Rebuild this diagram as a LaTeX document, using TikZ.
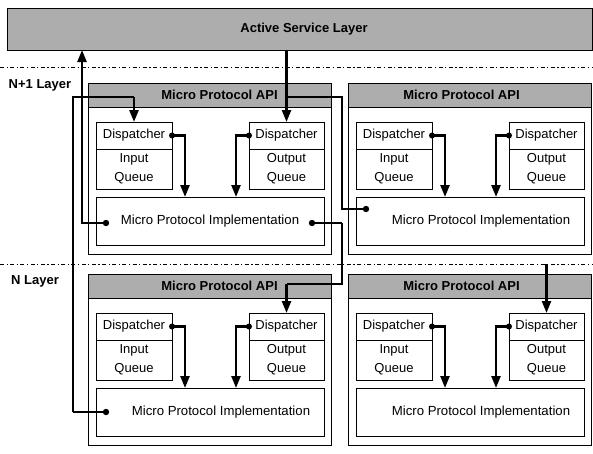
\documentclass[tikz,border=0pt]{standalone}
\usepackage{fontspec}
\setmainfont{Liberation Sans}
\usetikzlibrary{arrows.meta,calc}
\tikzset{
  boxline/.style={draw=black, line width=0.9pt, inner sep=0pt, outer sep=0pt},
  modbox/.style={boxline, anchor=north west},
  bandbox/.style={boxline, anchor=north west, fill=black!32, font=\fontsize{13}{15}\selectfont\bfseries},
  inbox/.style={boxline, anchor=north west, fill=white, align=center, font=\fontsize{13}{19}\selectfont},
  impltext/.style={font=\fontsize{13.2}{15}\selectfont, inner sep=0pt},
  conn/.style={line width=2.4pt, line join=miter},
  route/.style={line width=1.2pt},
  tipped/.style={-{Triangle[length=12pt,width=9pt]}},
  dotm/.style={fill=black},
  sep/.style={line width=0.9pt, dash pattern=on 4pt off 2.5pt on 1.2pt off 2.5pt},
  layerlabel/.style={font=\fontsize{13}{15}\selectfont\bfseries, inner sep=0pt}
}
\newcommand\mymodule[4]{%
  \node[modbox, minimum width=243pt, minimum height=171pt] (#1mod) at (#2,#3) {};
  \node[bandbox, minimum width=243pt, minimum height=24pt] (#1api) at (#2,#3) {\hspace*{#4}Micro Protocol API};
  \node[inbox, minimum width=76pt, minimum height=27pt] (#1ind) at (#2+8,#3+39) {Dispatcher};
  \node[inbox, minimum width=76pt, minimum height=40pt] (#1inq) at (#2+8,#3+66) {Input\\Queue};
  \node[inbox, minimum width=75pt, minimum height=27pt] (#1outd) at (#2+161,#3+39) {Dispatcher};
  \node[inbox, minimum width=75pt, minimum height=40pt] (#1outq) at (#2+161,#3+66) {Output\\Queue};
  \node[inbox, minimum width=228pt, minimum height=48pt] (#1impl) at (#2+8,#3+114) {};
  \coordinate (#1a) at (#2+97,#3+114);
  \coordinate (#1b) at (#2+148,#3+114);
  \draw[conn, tipped] (#1ind.east) -| (#1a);
  \draw[conn, tipped] (#1outd.west) -| (#1b);
  \fill[dotm] (#1ind.east) circle (3pt);
  \fill[dotm] (#1outd.west) circle (3pt);
}
\begin{document}
\begin{tikzpicture}[x=1pt, y=-1pt]
\useasboundingbox (0,0) rectangle (593,453);
\fill[white] (0,0) rectangle (593,453);
% layer separators
\draw[sep] (0,67) -- (593,67);
\draw[sep] (0,264) -- (593,264);
\node[layerlabel] (lab1) at (40,85) {N+1 Layer};
\node[layerlabel] (lab0) at (35,281) {N Layer};
% active service layer
\node[bandbox, minimum width=585pt, minimum height=42pt] (active) at (7,8) {\hspace*{9pt}Active Service Layer};
% modules
\mymodule{L1}{88}{83}{20pt}
\mymodule{R1}{348}{83}{-16pt}
\mymodule{L0}{88}{274}{20pt}
\mymodule{R0}{348}{274}{-16pt}
% implementation texts
\node[impltext] (t1) at (L1impl.center) {Micro Protocol Implementation};
\node[impltext] (t2) at ($(R1impl.center)+(11,0)$) {Micro Protocol Implementation};
\node[impltext] (t3) at ($(L0impl.center)+(11,0)$) {Micro Protocol Implementation};
\node[impltext] (t4) at ($(R0impl.center)+(11,0)$) {Micro Protocol Implementation};
% connection points
\coordinate (L1dl) at (106,223);
\coordinate (L1dr) at (312,223);
\coordinate (R1dl) at (366,209);
\coordinate (L0dl) at (106,412);
\coordinate (upend) at (82,50);
\coordinate (j1) at (342,97);
\coordinate (j2) at (286.5,97);
\coordinate (j3) at (342,284);
\coordinate (j4) at (73,97);
\coordinate (j5) at (546.5,264);
% routes
\draw[conn, tipped] (L1dl) -| (upend);
\draw[conn, tipped] (active.south -| L1outd.north) -- (L1outd.north);
\draw[route] (R1dl) -- (R1dl -| j1) -- (j1) -- (j2);
\draw[conn] (R1dl) -- (R1dl -| j1);
\draw[route] (L1dr -| j1) -- (j3) -- (j3 -| L0outd.north);
\draw[conn] (L1dr) -- (L1dr -| j1);
\draw[conn, tipped] (j3 -| L0outd.north) -- (L0outd.north);
\draw[route] (L0dl -| j4) -- (j4) -- (j4 -| L1ind.north);
\draw[conn] (L0dl) -- (L0dl -| j4);
\draw[conn, tipped] (j4 -| L1ind.north) -- (L1ind.north);
\draw[conn, tipped] (j5) -- (R0outd.north);
\fill[dotm] (L1dl) circle (3.2pt);
\fill[dotm] (L1dr) circle (3.2pt);
\fill[dotm] (R1dl) circle (3.2pt);
\fill[dotm] (L0dl) circle (3.2pt);
\end{tikzpicture}
\end{document}
